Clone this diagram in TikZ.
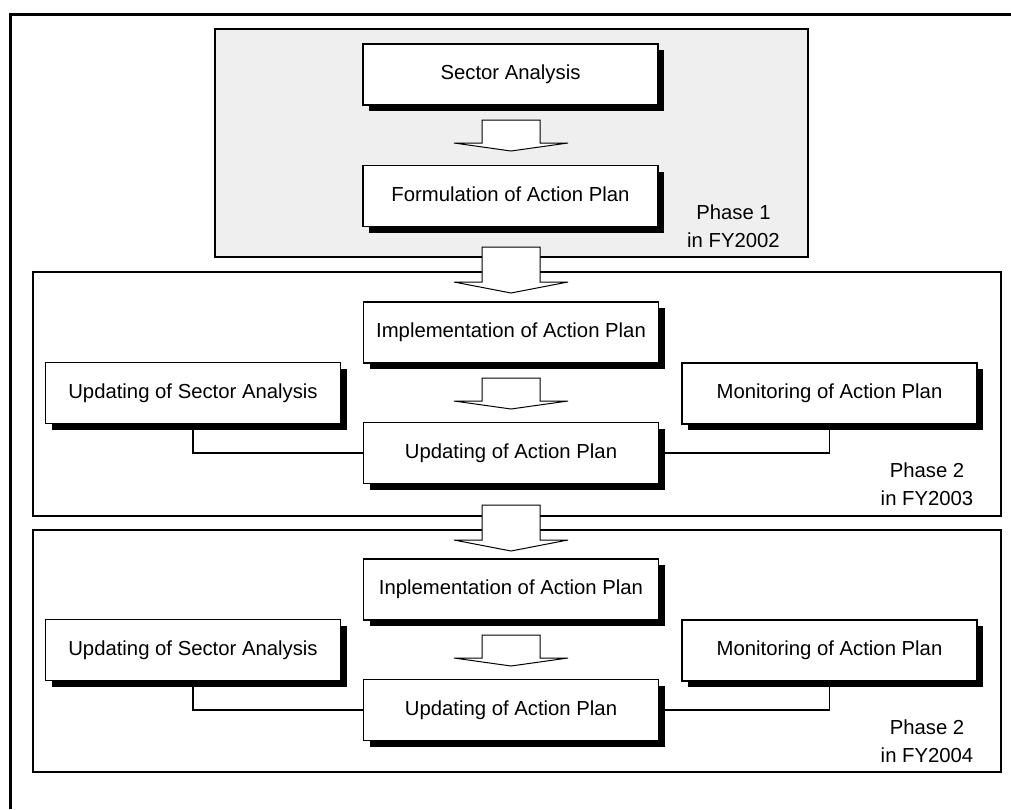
\documentclass[tikz,border=0pt]{standalone}
\usepackage{fontspec}
\setmainfont{Liberation Sans}
\usetikzlibrary{shadows}
\definecolor{panel}{HTML}{EFEFEF}

% hollow block arrow: centre x, top of shaft, head line, tip
\newcommand\blkarrow[4]{%
  \draw[blockarrow] ({#1-29},#2) -- ({#1+29},#2) -- ({#1+29},#3) -- ({#1+57},#3)
    -- (#1,#4) -- ({#1-57},#3) -- ({#1-29},#3) -- cycle;}

\begin{document}
\begin{tikzpicture}[x=1pt,y=-1pt,
  stepbox/.style={draw, fill=white, line width=1.2pt,
    minimum width=295pt, minimum height=61pt, inner sep=0pt,
    text height=14pt, text depth=4pt,
    font=\fontsize{20.3}{24}\selectfont,
    general shadow={fill=black, shadow xshift=6pt, shadow yshift=-6pt}},
  phasebox/.style={draw, line width=1.2pt},
  blockarrow/.style={draw, fill=white, line width=1pt, line join=miter},
  link/.style={draw, line width=1.2pt},
  phaselabel/.style={anchor=base, inner sep=0pt, font=\fontsize{20.3}{24}\selectfont}]

\useasboundingbox (0,0) rectangle (1011,809);
\fill[white] (0,0) rectangle (1011,809);

% outer frame (top and left edges)
\draw[line width=3pt] (10.5,809) -- (10.5,14.7) -- (1011,14.7);

% phase panels
\draw[phasebox, fill=panel] (215,29) rectangle (808,257);
\draw[phasebox] (33,272) rectangle (1001,516);
\draw[phasebox] (33,530) rectangle (1001,772);

% block arrows
\blkarrow{511}{120}{143}{151}
\blkarrow{511}{247}{282}{293}
\blkarrow{511}{378}{401}{409}
\blkarrow{511}{505}{540}{551}
\blkarrow{511}{635}{658}{666}

% phase 1
\node[stepbox] (sa)  at (510.5,74.5) {Sector Analysis};
\node[stepbox] (fap) at (510.5,196)  {Formulation of Action Plan};
\node[phaselabel] (p1a) at (733.5,219) {Phase 1};
\node[phaselabel] (p1b) at (733.5,247) {in FY2002};

% phase 2, FY2003
\node[stepbox] (imp2) at (511,332.5) {Implementation of Action Plan};
\node[stepbox] (upd2) at (511,453)   {Updating of Action Plan};
\node[stepbox] (usa2) at (193,393)   {Updating of Sector Analysis};
\node[stepbox] (mon2) at (829.5,393.5) {Monitoring of Action Plan};
\draw[link] (usa2.south) |- (upd2.west);
\draw[link] (mon2.south) |- (upd2.east);
\node[phaselabel] (p2a) at (927,477) {Phase 2};
\node[phaselabel] (p2b) at (927,505) {in FY2003};

% phase 2, FY2004
\node[stepbox] (imp3) at (511,589.5) {Inplementation of Action Plan};
\node[stepbox] (upd3) at (511,710)   {Updating of Action Plan};
\node[stepbox] (usa3) at (193,650)   {Updating of Sector Analysis};
\node[stepbox] (mon3) at (829.5,650.5) {Monitoring of Action Plan};
\draw[link] (usa3.south) |- (upd3.west);
\draw[link] (mon3.south) |- (upd3.east);
\node[phaselabel] (p3a) at (927,734) {Phase 2};
\node[phaselabel] (p3b) at (927,762) {in FY2004};

\end{tikzpicture}
\end{document}
